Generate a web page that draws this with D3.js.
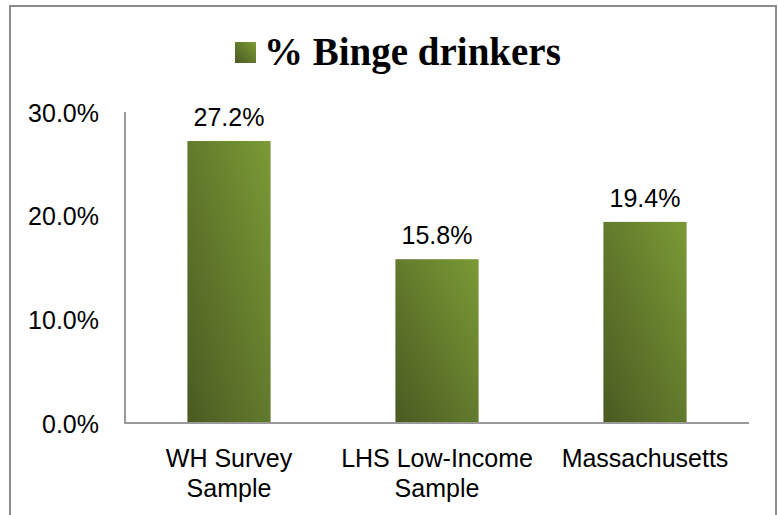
<!DOCTYPE html>
<html>
<head>
<meta charset="utf-8">
<script src="https://cdn.jsdelivr.net/npm/d3@7"></script>
<style>
  html, body { margin: 0; padding: 0; background: #fff; }
  svg { display: block; }
</style>
</head>
<body>
<svg id="chart" width="778" height="515"></svg>
<script>
// ---- Data ----
const categories = [["WH Survey", "Sample"], ["LHS Low-Income", "Sample"], ["Massachusetts"]];
const categoryKeys = ["WH Survey Sample", "LHS Low-Income Sample", "Massachusetts"];
const values = [27.2, 15.8, 19.4];
const yTicks = [0, 10, 20, 30];
const seriesName = "% Binge drinkers";

// ---- Layout ----
const plot = { left: 125, right: 749, top: 112, bottom: 423 };
const labelFont = "'Liberation Sans', Arial, sans-serif";

const svg = d3.select("#chart");

// gradients
const defs = svg.append("defs");
function addGrad(id) {
  const g = defs.append("linearGradient")
    .attr("id", id)
    .attr("x1", "0%").attr("y1", "100%")
    .attr("x2", "100%").attr("y2", "0%");
  g.append("stop").attr("offset", "0%").attr("stop-color", "#4a5a22");
  g.append("stop").attr("offset", "100%").attr("stop-color", "#7b9a36");
}
addGrad("barGrad");
addGrad("legGrad");

// outer border
svg.append("rect")
  .attr("x", 10).attr("y", 6)
  .attr("width", 766).attr("height", 520)
  .attr("fill", "none")
  .attr("stroke", "#8c8c8c")
  .attr("stroke-width", 2);

// scales
const x = d3.scaleBand()
  .domain(categoryKeys)
  .range([plot.left, plot.right])
  .paddingInner(0.6)
  .paddingOuter(0.3);

const y = d3.scaleLinear()
  .domain([0, 30])
  .range([plot.bottom, plot.top]);

// y axis labels
const yAxis = d3.axisLeft(y)
  .tickValues(yTicks)
  .tickSize(0)
  .tickPadding(26)
  .tickFormat(d => d3.format(".1f")(d) + "%");

const gy = svg.append("g")
  .attr("transform", `translate(${plot.left},0)`)
  .call(yAxis);
gy.select(".domain").remove();
gy.attr("font-size", null).attr("font-family", null);
gy.selectAll("text")
  .style("font-size", "25px")
  .style("font-family", labelFont)
  .attr("fill", "#000")
  .attr("dy", "0.36em");

// y axis line
svg.append("line")
  .attr("x1", plot.left).attr("x2", plot.left)
  .attr("y1", plot.top).attr("y2", plot.bottom)
  .attr("stroke", "#999").attr("stroke-width", 2);

// bars
svg.append("g").selectAll("rect")
  .data(values)
  .join("rect")
  .attr("x", (d, i) => x(categoryKeys[i]))
  .attr("y", d => y(d))
  .attr("width", x.bandwidth())
  .attr("height", d => y(0) - y(d))
  .attr("fill", "url(#barGrad)");

// x axis line
svg.append("line")
  .attr("x1", plot.left - 1).attr("x2", plot.right)
  .attr("y1", plot.bottom).attr("y2", plot.bottom)
  .attr("stroke", "#999").attr("stroke-width", 2);

// data labels
svg.append("g").selectAll("text")
  .data(values)
  .join("text")
  .attr("x", (d, i) => x(categoryKeys[i]) + x.bandwidth() / 2)
  .attr("y", d => y(d) - 15)
  .attr("text-anchor", "middle")
  .style("font-size", "25px")
  .style("font-family", labelFont)
  .text(d => d3.format(".1f")(d) + "%");

// x labels
const xl = svg.append("g").selectAll("text")
  .data(categories)
  .join("text")
  .attr("x", (d, i) => x(categoryKeys[i]) + x.bandwidth() / 2)
  .attr("y", 467)
  .attr("text-anchor", "middle")
  .style("font-size", "25px")
  .style("font-family", labelFont);
xl.selectAll("tspan")
  .data(d => d)
  .join("tspan")
  .attr("x", function() { return d3.select(this.parentNode).attr("x"); })
  .attr("dy", (d, i) => i === 0 ? 0 : 30)
  .text(d => d);

// legend / title
const title = svg.append("g");
title.append("rect")
  .attr("x", 235).attr("y", 42)
  .attr("width", 21).attr("height", 21)
  .attr("fill", "url(#legGrad)");
title.append("text")
  .attr("x", 264).attr("y", 65)
  .style("font-family", "'Liberation Serif', 'Times New Roman', serif")
  .style("font-weight", "bold")
  .style("font-size", "39px")
  .text(seriesName);
</script>
</body>
</html>
